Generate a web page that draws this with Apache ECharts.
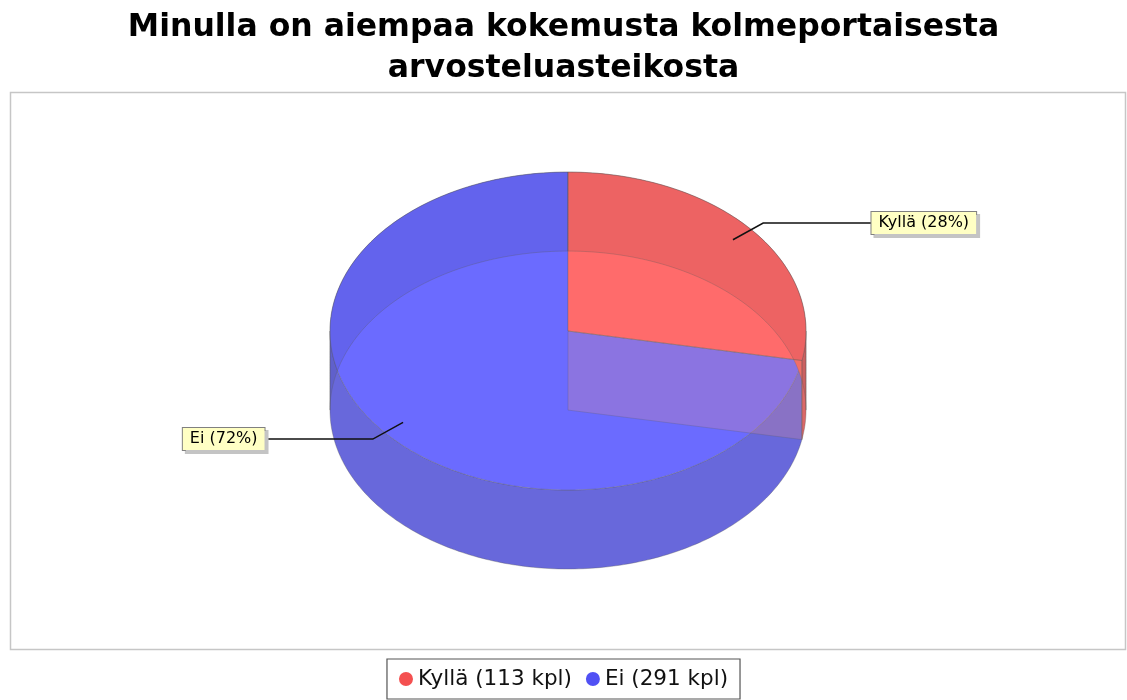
<!DOCTYPE html>
<html>
<head>
<meta charset="utf-8">
<script src="https://cdn.jsdelivr.net/npm/echarts@6/dist/echarts.min.js"></script>
<style>
html, body { margin: 0; padding: 0; background: #fff; }
#main { width: 1127px; height: 700px; }
</style>
</head>
<body>
<div id="main"></div>
<script>
var names = ['Kyllä', 'Ei'];
var counts = [113, 291];
var unit = 'kpl';

var palette = ['#ff6b6b', '#6b6bff'],
    legendColors = ['#f45050', '#5050f4'],
    tints = ['rgba(255,150,120,0.22)', 'rgba(120,120,255,0.22)'];

var total = counts.reduce(function (a, b) { return a + b; }, 0);

function mix(hex, to, t) {
    var a = parseInt(hex.slice(1), 16), b = parseInt(to.slice(1), 16);
    var r = (a >> 16) & 255, g = (a >> 8) & 255, bl = a & 255;
    var r2 = (b >> 16) & 255, g2 = (b >> 8) & 255, b2 = b & 255;
    return 'rgb(' + Math.round(r + (r2 - r) * t) + ',' + Math.round(g + (g2 - g) * t) + ',' + Math.round(bl + (b2 - bl) * t) + ')';
}

// pieces of [lo, hi] that fall in a band (degrees, repeated every 360)
function overlap(lo, hi, bLo, bHi) {
    var out = [];
    for (var k = -2; k <= 1; k++) {
        var l = Math.max(lo, bLo + 360 * k), h = Math.min(hi, bHi + 360 * k);
        if (h - l > 0.01) out.push([l, h]);
    }
    return out;
}

function makeRenderer(idx) {
    return function (params, api) {
        var w = api.getWidth(), h = api.getHeight();
        var cx = w * 0.504, cy = h * 0.4729, rx = w * 0.2112, ry = h * 0.2271, depth = h * 0.1129;
        var before = 0;
        for (var j = 0; j < idx; j++) before += counts[j];
        var value = api.value(0);
        var a0 = 90 - before / total * 360,
            a1 = a0 - value / total * 360;

        function pt(a, k, off) {
            var r = a * Math.PI / 180;
            return [cx + rx * k * Math.cos(r), cy - ry * k * Math.sin(r) + (off || 0)];
        }
        function arc(from, to, off) {
            var n = Math.max(2, Math.ceil(Math.abs(to - from))), pts = [];
            for (var i = 0; i <= n; i++) pts.push(pt(from + (to - from) * i / n, 1, off));
            return pts;
        }
        function wall(r) {
            return arc(r[0], r[1], 0).concat(arc(r[1], r[0], depth));
        }
        function poly(pts, style) {
            return { type: 'polygon', shape: { points: pts }, style: style };
        }

        var color = palette[idx],
            frontColor = mix(color, '#5d5d5d', 0.22),
            backs = overlap(a1, a0, 0, 180),
            fronts = overlap(a1, a0, -180, 0),
            children = [];

        backs.forEach(function (r) {
            children.push(poly(wall(r), { fill: color }));
        });
        fronts.forEach(function (r) {
            children.push(poly(wall(r), { fill: frontColor, stroke: 'rgba(90,90,90,0.35)', lineWidth: 1 }));
        });
        children.push(poly([[cx, cy]].concat(arc(a0, a1, 0)), {
            fill: color, stroke: 'rgba(100,100,100,0.35)', lineWidth: 1
        }));
        backs.forEach(function (r) {
            children.push(poly(wall(r), { fill: 'rgba(0,0,0,0.07)', stroke: 'rgba(90,90,90,0.3)', lineWidth: 1 }));
        });
        // cut face at the clockwise end, seen through the neighbouring slice
        if (Math.cos(a1 * Math.PI / 180) > 0.001) {
            var e = pt(a1, 1, 0);
            children.push(poly([[cx, cy], e, [e[0], e[1] + depth], [cx, cy + depth]], {
                fill: tints[idx], stroke: 'rgba(90,90,90,0.25)', lineWidth: 1
            }));
        }

        // label with leader line
        var mid = (a0 + a1) / 2,
            right = Math.cos(mid * Math.PI / 180) >= 0,
            anchor = pt(mid, 0.9, 0),
            elbow = pt(mid, 1.065, 0),
            lx = right ? cx + rx * 1.275 : cx - rx * 1.275,
            pct = Math.round(value / total * 100);
        children.push({
            type: 'polyline',
            shape: { points: [anchor, elbow, [lx, elbow[1]]] },
            style: { stroke: '#111', lineWidth: 1.5, fill: null }
        });
        children.push({
            type: 'text',
            style: {
                text: names[idx] + ' (' + pct + '%)',
                x: lx, y: elbow[1],
                align: right ? 'left' : 'right',
                verticalAlign: 'middle',
                font: '16px "DejaVu Sans"',
                fill: '#000',
                backgroundColor: '#ffffc4',
                borderColor: '#808080',
                borderWidth: 1,
                padding: [3, 7],
                shadowColor: '#c4c4c4',
                shadowOffsetX: 3,
                shadowOffsetY: 3
            }
        });

        return { type: 'group', children: children };
    };
}

var series = names.map(function (name, i) {
    return {
        name: name,
        type: 'custom',
        coordinateSystem: 'none',
        z: 3 - i,
        itemStyle: { color: legendColors[i] },
        data: [[counts[i]]],
        renderItem: makeRenderer(i)
    };
});

var myChart = echarts.init(document.getElementById('main'));
myChart.setOption({
    animation: false,
    backgroundColor: '#fff',
    title: {
        text: 'Minulla on aiempaa kokemusta kolmeportaisesta\narvosteluasteikosta',
        left: 'center',
        top: 2,
        textStyle: {
            fontFamily: 'DejaVu Sans',
            fontWeight: 'bold',
            fontSize: 31.5,
            lineHeight: 41,
            color: '#000'
        }
    },
    graphic: [{
        type: 'rect',
        shape: { x: 10.5, y: 92.5, width: 1115, height: 557 },
        style: { fill: null, stroke: '#c6c6c6', lineWidth: 1.5 },
        z: -1
    }],
    legend: {
        data: names,
        left: 'center',
        bottom: 1,
        icon: 'circle',
        itemWidth: 14,
        itemHeight: 14,
        itemGap: 14,
        padding: [9, 12],
        borderColor: '#555',
        borderWidth: 1.2,
        selectedMode: false,
        formatter: function (name) {
            return name + ' (' + counts[names.indexOf(name)] + ' ' + unit + ')';
        },
        textStyle: { fontFamily: 'DejaVu Sans', fontSize: 21.5, color: '#111' }
    },
    series: series
});
</script>
</body>
</html>
